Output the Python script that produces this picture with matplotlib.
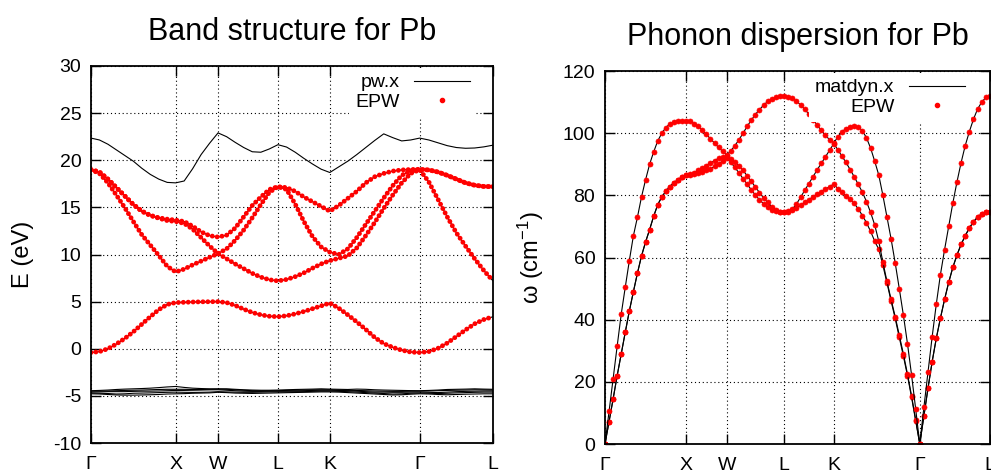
import numpy as np
import matplotlib
matplotlib.use('Agg')
import matplotlib.pyplot as plt
from matplotlib.lines import Line2D

plt.rcParams['font.family'] = ['Liberation Sans', 'DejaVu Sans']
plt.rcParams['axes.unicode_minus'] = False
plt.rcParams['mathtext.default'] = 'regular'

# k-path G-X-W-L-K-G-L (fcc, units of 2pi/a)
seg_len = [1.0, 0.5, 0.7071, 0.6124, 1.0607, 0.8660]
sym_labels = ['Γ', 'X', 'W', 'L', 'K', 'Γ', 'L']
el_counts = [10, 5, 7, 6, 10, 8]      # k points per segment, bands
ph_counts = [20, 10, 14, 12, 21, 17]  # q points per segment, phonons

# electronic bands (eV), segments G-X | X-W | W-L | L-K | K-G | G-L
band1 = [-0.4, -0.3, 0.0, 0.5, 1.1, 1.8, 2.6, 3.4, 4.15, 4.7, 4.9,
         4.93, 4.96, 4.98, 4.99, 5.0,
         4.9, 4.6, 4.2, 3.85, 3.6, 3.45, 3.4,
         3.5, 3.7, 3.95, 4.25, 4.55, 4.85,
         4.3, 3.6, 2.85, 2.05, 1.2, 0.55, 0.15, -0.15, -0.35, -0.4,
         -0.3, 0.05, 0.6, 1.3, 2.0, 2.65, 3.1, 3.4]
band2 = [19.0, 18.6, 17.6, 16.3, 14.95, 13.5, 12.1, 11.0, 9.9, 8.75, 8.15,
         8.45, 8.9, 9.3, 9.7, 10.1,
         9.55, 9.0, 8.5, 8.0, 7.6, 7.32, 7.2,
         7.35, 7.65, 8.05, 8.55, 9.0, 9.35,
         9.6, 9.85, 10.7, 12.0, 13.4, 14.9, 16.3, 17.6, 18.6, 19.0,
         17.7, 15.85, 14.0, 12.3, 10.9, 9.55, 8.3, 7.2]
band3 = [19.0, 18.75, 18.0, 17.1, 16.2, 15.3, 14.6, 14.15, 13.85, 13.6, 13.5,
         13.3, 12.7, 11.8, 10.9, 10.1,
         10.6, 11.5, 12.6, 13.9, 15.3, 16.6, 17.2,
         16.9, 15.35, 13.5, 11.9, 10.8, 10.25,
         10.0, 10.6, 11.8, 13.2, 14.6, 16.0, 17.3, 18.4, 18.9, 19.02,
         18.97, 18.75, 18.4, 18.0, 17.6, 17.35, 17.22, 17.2]
band4 = [19.0, 18.75, 18.0, 17.1, 16.2, 15.3, 14.6, 14.15, 13.9, 13.75, 13.65,
         13.5, 13.0, 12.4, 12.0, 11.85,
         12.05, 12.8, 14.0, 15.2, 16.1, 16.9, 17.2,
         17.1, 16.7, 16.1, 15.6, 15.1, 14.6,
         15.2, 15.95, 16.7, 17.6, 18.25, 18.6, 18.85, 18.97, 19.02, 19.04,
         18.97, 18.75, 18.4, 18.0, 17.6, 17.35, 17.22, 17.2]
band5 = [22.35, 22.15, 21.7, 21.1, 20.5, 19.9, 19.15, 18.5, 18.0, 17.65, 17.6,
         17.8, 19.1, 20.6, 21.8, 22.9,
         22.5, 21.9, 21.35, 20.9, 20.85, 21.2, 21.65,
         21.4, 20.85, 20.2, 19.6, 19.05, 18.7,
         19.3, 19.9, 20.6, 21.35, 22.1, 22.8, 22.4, 22.05, 22.15, 22.35,
         22.15, 21.85, 21.55, 21.35, 21.27, 21.3, 21.42, 21.6]
# semicore d bands (pw.x only)
dband1 = [-4.78, -4.8, -4.85, -4.9, -4.92, -4.92, -4.9, -4.88, -4.85, -4.8, -4.78,
          -4.76, -4.72, -4.7, -4.68, -4.62,
          -4.65, -4.7, -4.72, -4.74, -4.72, -4.7, -4.68,
          -4.66, -4.64, -4.62, -4.6, -4.58, -4.58,
          -4.6, -4.65, -4.7, -4.75, -4.8, -4.85, -4.9, -4.88, -4.82, -4.78,
          -4.8, -4.85, -4.88, -4.85, -4.82, -4.8, -4.78, -4.78]
dband2 = [-4.7, -4.72, -4.75, -4.8, -4.78, -4.72, -4.7, -4.68, -4.65, -4.62, -4.6,
          -4.62, -4.63, -4.62, -4.6, -4.55,
          -4.58, -4.6, -4.62, -4.62, -4.6, -4.58, -4.58,
          -4.58, -4.56, -4.55, -4.52, -4.5, -4.5,
          -4.52, -4.55, -4.6, -4.65, -4.7, -4.75, -4.8, -4.78, -4.72, -4.7,
          -4.72, -4.75, -4.72, -4.68, -4.65, -4.62, -4.6, -4.6]
dband3 = [-4.6, -4.58, -4.55, -4.55, -4.55, -4.52, -4.5, -4.5, -4.48, -4.45, -4.42,
          -4.42, -4.4, -4.38, -4.36, -4.35,
          -4.4, -4.45, -4.5, -4.52, -4.52, -4.5, -4.5,
          -4.5, -4.48, -4.45, -4.42, -4.4, -4.4,
          -4.42, -4.45, -4.5, -4.55, -4.6, -4.6, -4.62, -4.62, -4.6, -4.6,
          -4.62, -4.65, -4.6, -4.55, -4.52, -4.5, -4.48, -4.48]
dband4 = [-4.5, -4.5, -4.48, -4.45, -4.42, -4.4, -4.38, -4.35, -4.32, -4.3, -4.3,
          -4.3, -4.32, -4.32, -4.3, -4.28,
          -4.3, -4.35, -4.4, -4.45, -4.46, -4.46, -4.45,
          -4.42, -4.4, -4.38, -4.36, -4.35, -4.35,
          -4.38, -4.4, -4.42, -4.45, -4.48, -4.5, -4.52, -4.52, -4.5, -4.5,
          -4.48, -4.45, -4.42, -4.4, -4.38, -4.35, -4.36, -4.38]
dband5 = [-4.45, -4.42, -4.38, -4.32, -4.28, -4.25, -4.22, -4.18, -4.12, -4.05, -4.0,
          -4.1, -4.18, -4.22, -4.25, -4.25,
          -4.25, -4.3, -4.35, -4.38, -4.4, -4.4, -4.38,
          -4.35, -4.32, -4.3, -4.28, -4.25, -4.28,
          -4.3, -4.32, -4.28, -4.3, -4.35, -4.38, -4.4, -4.42, -4.44, -4.45,
          -4.42, -4.38, -4.32, -4.3, -4.28, -4.25, -4.28, -4.3]

# phonon branches (cm^-1)
ph1 = [0, 7.2, 14.5, 22, 29, 36, 42.8, 49, 55, 60.5, 65, 69, 73.3, 77, 79.5, 81.3, 82.8, 84.0, 85.0, 85.9, 86.5,
       86.6, 86.8, 87.1, 87.5, 88.0, 88.6, 89.3, 90.1, 91.0, 92.0,
       90.6, 89, 87.2, 85.4, 83.6, 81.8, 80.1, 78.6, 77.3, 76.2, 75.4, 74.9, 74.6, 74.6,
       74.8, 75.2, 75.9, 76.8, 77.7, 78.6, 79.5, 80.4, 81.2, 82.0, 82.8, 83.6,
       82.2, 81, 79.9, 78.7, 77.4, 75.6, 73.5, 71.2, 68.4, 65.3, 62.6, 57.5, 51.8, 46, 40.4, 34.3, 28.3, 22, 15, 7.5, 0,
       9, 18, 26.5, 34, 40.5, 46.5, 52, 56.8, 60.8, 64.2, 67, 69.5, 71.5, 73, 74, 74.5, 74.7]
ph2 = [0, 7.2, 14.5, 22, 29, 36, 42.8, 49, 55, 60.5, 65, 69, 73.3, 77, 79.5, 81.3, 82.8, 84.0, 85.0, 85.9, 86.5,
       86.8, 87.3, 88.0, 88.8, 89.6, 90.4, 91.2, 91.9, 92.4, 92.6,
       91.8, 90.8, 89.5, 88, 86.3, 84.5, 82.7, 80.9, 79.2, 77.7, 76.4, 75.4, 74.8, 74.6,
       74.9, 75.6, 77.2, 79.4, 81.6, 83.8, 86.0, 88.2, 90.3, 92.4, 94.5, 96.6,
       94.7, 92.6, 90.6, 88.3, 86, 83.5, 81, 78, 74.5, 70.5, 65.2, 58.5, 52.3, 46.5, 41, 35, 29, 22.5, 15.5, 7.8, 0,
       9, 18, 26.5, 34, 40.5, 46.5, 52, 56.8, 60.8, 64.2, 67, 69.5, 71.5, 73, 74, 74.5, 74.7]
ph3 = [0, 10.5, 21, 31.5, 41.8, 50.5, 59, 67, 73, 79.5, 85, 90, 94, 97.5, 100, 101.8, 103, 103.7, 104, 104, 104,
       103.8, 103.1, 102.2, 101, 99.6, 98.2, 96.8, 95.4, 94.2, 93.0,
       94.3, 96, 97.9, 100, 102.2, 104.2, 106, 107.6, 109, 110.2, 111, 111.6, 111.9, 112,
       111.8, 111.2, 110.3, 109.1, 107.7, 106.1, 104.4, 102.6, 100.9, 99.3, 97.9, 96.8,
       98.8, 100.4, 101.5, 102.1, 102.4, 102.0, 100.8, 98.5, 95.2, 91.0, 86.5, 80, 73, 66, 58.3, 50, 41.5, 32.3, 22.2, 11.3, 0,
       11.8, 23.2, 34.5, 45, 54.5, 62.5, 70, 77.5, 84.3, 90.5, 96, 100.5, 104.5, 107.8, 110, 111.5, 112]


def kpath(counts):
    x = [0.0]
    for L, n in zip(seg_len, counts):
        start = x[-1]
        x.extend(start + L * np.arange(1, n + 1) / n)
    return np.array(x)


xk = kpath(el_counts)
xq = kpath(ph_counts)
xsym = np.concatenate([[0.0], np.cumsum(seg_len)])

fig = plt.figure(figsize=(9.91, 4.70), dpi=100)
ax1 = fig.add_axes([0.0918, 0.0574, 0.4057, 0.8022])
ax2 = fig.add_axes([0.6105, 0.0553, 0.3885, 0.7936])

dot_style = dict(color='red', lw=3.5, ls=(0, (0.01, 1.0)), dash_capstyle='round')

# band structure
for b in [dband1, dband2, dband3, dband4, dband5, band5, band1, band2, band3, band4]:
    ax1.plot(xk, b, color='black', lw=0.8)
for b in [band1, band2, band3, band4]:
    ax1.plot(xk, b, **dot_style)
ax1.set_ylim(-10, 30)
ax1.set_yticks(np.arange(-10, 31, 5))
ax1.set_ylabel('E (eV)', fontsize=17, labelpad=14)
ax1.set_title('Band structure for Pb', fontsize=22, pad=19)

# phonons
for b in [ph1, ph2, ph3]:
    ax2.plot(xq, b, color='black', lw=0.8)
    ax2.plot(xq, b, ls='none', marker='o', ms=3.6, mfc='red', mec='red', mew=0.5)
ax2.set_ylim(0, 120)
ax2.set_yticks(np.arange(0, 121, 20))
ax2.set_ylabel('ω (cm$^{-1}$)', fontsize=17, labelpad=12)
ax2.set_title('Phonon dispersion for Pb', fontsize=22, pad=19)

for ax in (ax1, ax2):
    ax.set_xlim(xsym[0], xsym[-1])
    ax.set_xticks(xsym)
    ax.set_xticklabels(sym_labels)
    ax.grid(True, ls=(0, (1, 2.5)), color='black', lw=0.8)
    ax.set_axisbelow(True)
    ax.tick_params(direction='in', top=True, right=True, length=7, width=1,
                   labelsize=14, pad=7)
    ax.tick_params(axis='x', pad=9)
    for s in ax.spines.values():
        s.set_linewidth(1.3)

h_line = Line2D([], [], color='black', lw=0.8)
h_dot = Line2D([], [], ls='none', marker='o', ms=3.0, mfc='red', mec='red')
leg_kw = dict(loc='upper right', markerfirst=False, frameon=True, fancybox=False,
              framealpha=1, edgecolor='none', fontsize=14, handlelength=2.9,
              handletextpad=0.75, labelspacing=0.12, borderpad=0.3, borderaxespad=0)
ax1.legend([h_line, h_dot], ['pw.x', 'EPW'], bbox_to_anchor=(0.958, 0.995), **leg_kw)
ax2.legend([h_line, h_dot], ['matdyn.x', 'EPW'], bbox_to_anchor=(0.951, 0.995), **leg_kw)

fig.savefig('out.png', dpi=100)
